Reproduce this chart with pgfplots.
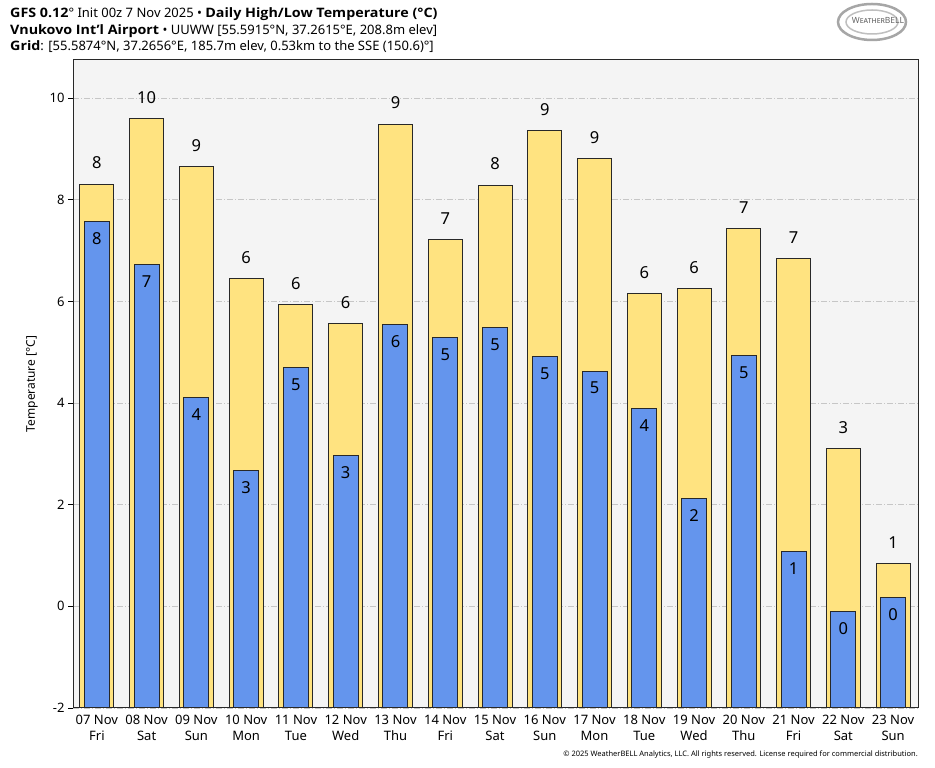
\documentclass[border=0pt]{standalone}
\usepackage{fontspec}
\setmainfont{Noto Sans}[BoldFont={Open Sans Bold}, BoldFeatures={FakeStretch=1.1}]
\usepackage{pgfplots}
\usepackage{pgfplotstable}
\pgfplotsset{compat=1.18}
\definecolor{hicol}{RGB}{255,227,128}
\definecolor{locol}{RGB}{100,149,237}
\definecolor{bgcol}{RGB}{244,244,244}
\definecolor{edgecol}{RGB}{40,40,40}

% daily high / low, degC (bars drawn from -2, so shifted by +2 below)
\pgfplotstableread{
x hi  hl lo   ll
0 8.31 8  7.57 8
1 9.60 10 6.72 7
2 8.66 9  4.10 4
3 6.45 6  2.67 3
4 5.93 6  4.69 5
5 5.56 6  2.96 3
6 9.49 9  5.54 6
7 7.21 7  5.29 5
8 8.29 8  5.48 5
9 9.36 9  4.91 5
10 8.81 9 4.63 5
11 6.15 6 3.90 4
12 6.25 6 2.13 2
13 7.43 7 4.93 5
14 6.84 7 1.07 1
15 3.10 3 -0.11 0
16 0.85 1 0.18 0
}\temps

\begin{document}
\begin{tikzpicture}[x=1pt,y=1pt]
\path[use as bounding box] (0,0) rectangle (935,768);
\fill[white] (0,0) rectangle (935,768);

\begin{axis}[
  at={(73pt,60pt)}, anchor=south west,
  width=845pt, height=648pt, scale only axis,
  ybar, bar shift=0pt,
  xmin=-0.48, xmax=16.5,
  ymin=0, ymax=12.75,
  ytick={0,2,4,6,8,10,12},
  yticklabels={-2,0,2,4,6,8,10},
  ytick pos=left,
  xtick={0,...,16},
  xticklabels={{07 Nov\\Fri},{08 Nov\\Sat},{09 Nov\\Sun},{10 Nov\\Mon},{11 Nov\\Tue},{12 Nov\\Wed},{13 Nov\\Thu},{14 Nov\\Fri},{15 Nov\\Sat},{16 Nov\\Sun},{17 Nov\\Mon},{18 Nov\\Tue},{19 Nov\\Wed},{20 Nov\\Thu},{21 Nov\\Fri},{22 Nov\\Sat},{23 Nov\\Sun}},
  xticklabel style={align=center, font=\fontsize{13}{16}\selectfont, inner sep=2pt},
  yticklabel style={font=\fontsize{13}{16}\selectfont},
  xtick style={draw=none},
  ytick style={black, line width=0.8pt},
  tick align=outside, major tick length=5pt,
  ymajorgrids,
  grid style={gray!45, dash pattern=on 6pt off 2pt on 1pt off 2pt, line width=0.8pt},
  axis line style={edgecol, line width=1pt},
  axis background/.style={fill=bgcol},
  point meta=explicit symbolic,
  nodes near coords,
]
\addplot[fill=hicol, draw=edgecol, line width=1pt, bar width=34pt,
  every node near coord/.style={font=\fontsize{16.5}{18}\selectfont, text=black, anchor=center, yshift=21pt}]
  table[x=x, y expr=\thisrow{hi}+2, meta=hl]{\temps};
\addplot[fill=locol, draw=edgecol, line width=1pt, bar width=25pt,
  every node near coord/.style={font=\fontsize{16.5}{18}\selectfont, text=black, anchor=center, yshift=-17pt}]
  table[x=x, y expr=\thisrow{lo}+2, meta=ll]{\temps};
\end{axis}

\node[rotate=90, font=\fontsize{12}{14}\selectfont] at (32,384) {Temperature [°C]};

\node[anchor=base west, inner sep=0, font=\fontsize{13}{15}\selectfont] at (10,750)
  {\textbf{GFS 0.12}° Init 00z 7 Nov 2025 • \textbf{Daily High/Low Temperature (°C)}};
\node[anchor=base west, inner sep=0, font=\fontsize{13}{15}\selectfont] at (10,733)
  {\textbf{Vnukovo Int'l Airport} • UUWW [55.5915°N, 37.2615°E, 208.8m elev]};
\node[anchor=base west, inner sep=0, font=\fontsize{13}{15}\selectfont] at (10,717)
  {\textbf{Grid}: [55.5874°N, 37.2656°E, 185.7m elev, 0.53km to the SSE (150.6)°]};

\node[anchor=base east, inner sep=0, font=\fontsize{7.5}{9}\selectfont] at (918,11)
  {© 2025 WeatherBELL Analytics, LLC. All rights reserved. License required for commercial distribution.};

% logo
\begin{scope}[gray!70, line width=2.5pt]
  \draw (872,746) ellipse (34 and 18);
  \draw[line width=1.5pt, gray!50] (872,746) ellipse (26 and 12);
\end{scope}
\node[text=gray!80!black, font=\fontsize{8.5}{10}\selectfont\scshape] at (878,748) {WeatherBELL};
\end{tikzpicture}
\end{document}
